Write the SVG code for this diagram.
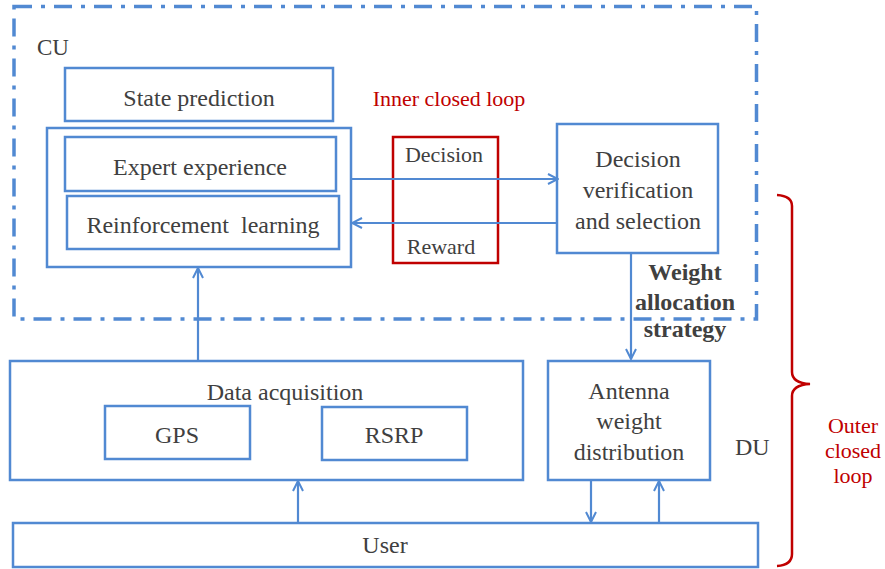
<svg xmlns="http://www.w3.org/2000/svg" width="885" height="569" viewBox="0 0 885 569" font-family="Liberation Serif, Times New Roman, serif">
  <style>
    .box { fill: none; stroke: #5189d2; stroke-width: 2.5; }
    .redbox { fill: none; stroke: #c00000; stroke-width: 2.5; }
    .cu { fill: none; stroke: #5189d2; stroke-width: 3.5; stroke-dasharray: 18 9 4 9; }
    text { font-family: "Liberation Serif", "Times New Roman", Times, serif; }
    .t { font-size: 24px; fill: #404040; text-anchor: middle; }
    .s { font-size: 22px; }
    .b { font-weight: bold; }
    .red { fill: #c00000; }
    .l { text-anchor: start; }
    .conn { fill: none; stroke: #5189d2; stroke-width: 2.2; marker-end: url(#arr); }
    .brace { fill: none; stroke: #c00000; stroke-width: 2.5; }
  </style>
  <defs>
    <marker id="arr" viewBox="0 0 12 12" refX="11" refY="6" markerWidth="12" markerHeight="12" markerUnits="userSpaceOnUse" orient="auto">
      <path d="M1,1 L11,6 L1,11" fill="none" stroke="#5189d2" stroke-width="2"/>
    </marker>
  </defs>

  <!-- CU boundary -->
  <g id="cu-region">
    <path class="cu" d="M14,6.5 H756.5 V319 H14 Z"/>
    <text class="t l" x="37" y="55" style="font-size:23px">CU</text>
  </g>

  <g id="state-prediction">
    <rect class="box" x="65" y="68" width="268" height="53"/>
    <text class="t" x="199" y="106">State prediction</text>
  </g>

  <g id="policy">
    <rect class="box" x="47" y="128" width="304" height="139"/>
    <g id="expert-experience">
      <rect class="box" x="65" y="137" width="271" height="54"/>
      <text class="t" x="200" y="175">Expert experience</text>
    </g>
    <g id="reinforcement-learning">
      <rect class="box" x="67" y="196" width="272" height="53"/>
      <text class="t" x="203" y="233" xml:space="preserve">Reinforcement  learning</text>
    </g>
  </g>

  <g id="inner-loop">
    <text class="t s red" x="449" y="106">Inner closed loop</text>
    <rect class="redbox" x="393" y="137" width="105" height="126"/>
    <text class="t s" x="444" y="162">Decision</text>
    <text class="t s" x="441" y="254">Reward</text>
  </g>

  <g id="decision-verification">
    <rect class="box" x="557" y="124" width="161" height="129"/>
    <text class="t" x="638" y="167">Decision</text>
    <text class="t" x="638" y="198">verification</text>
    <text class="t" x="638" y="229">and selection</text>
  </g>

  <g id="weight-label">
    <text class="t b" x="685" y="280">Weight</text>
    <text class="t b" x="685" y="310">allocation</text>
    <text class="t b" x="685" y="337">strategy</text>
  </g>

  <g id="data-acquisition">
    <rect class="box" x="10" y="361" width="513" height="119"/>
    <text class="t" x="285" y="400">Data acquisition</text>
    <g id="gps">
      <rect class="box" x="105" y="406" width="145" height="53"/>
      <text class="t" x="177" y="443">GPS</text>
    </g>
    <g id="rsrp">
      <rect class="box" x="322" y="407" width="145" height="53"/>
      <text class="t" x="394" y="443">RSRP</text>
    </g>
  </g>

  <g id="antenna-weight">
    <rect class="box" x="548" y="361" width="162" height="119"/>
    <text class="t" x="629" y="399">Antenna</text>
    <text class="t" x="629" y="429">weight</text>
    <text class="t" x="629" y="460">distribution</text>
  </g>

  <g id="du-label">
    <text class="t l" x="735" y="455">DU</text>
  </g>

  <g id="user">
    <rect class="box" x="13" y="523" width="745" height="44"/>
    <text class="t" x="385" y="553">User</text>
  </g>

  <g id="outer-loop">
    <path class="brace" d="M777,195 Q792,196 792,206 V372 Q792,383 810,384 Q792,385 792,396 V554 Q792,565 777,566"/>
    <text class="t s red" x="853" y="433">Outer</text>
    <text class="t s red" x="853" y="458">closed</text>
    <text class="t s red" x="853" y="483">loop</text>
  </g>

  <g id="connectors">
    <path class="conn" d="M351,179 H558"/>
    <path class="conn" d="M557,223 H352"/>
    <path class="conn" d="M631,253 V359"/>
    <path class="conn" d="M198,361 V268"/>
    <path class="conn" d="M298,523 V481"/>
    <path class="conn" d="M591,480 V522"/>
    <path class="conn" d="M659,523 V481"/>
  </g>
</svg>
